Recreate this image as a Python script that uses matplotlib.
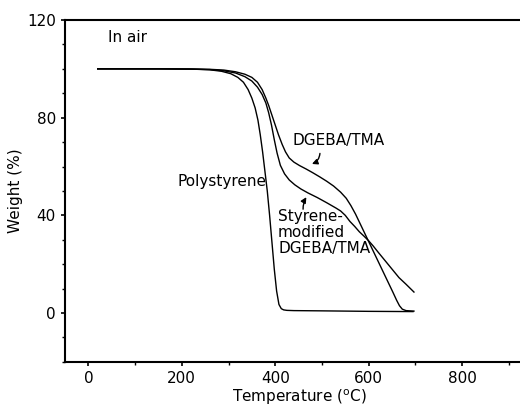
import matplotlib
matplotlib.use('Agg')
import matplotlib.pyplot as plt
from matplotlib.ticker import MultipleLocator

# TGA curves in air: temperature (degC) vs weight (%)
ps_temp = [20, 150, 220, 260, 285, 305, 320, 332, 342, 350, 357, 363, 368, 373, 378, 383,
           388, 393, 398, 403, 408, 413, 418, 425, 440, 500, 600, 695]
ps_weight = [100, 100, 99.9, 99.6, 99, 98, 96.5, 94.5, 91.5, 88, 84, 79, 73, 66, 58, 50,
             40, 29, 18, 9, 3.5, 1.8, 1.3, 1.1, 1.0, 0.9, 0.7, 0.6]

mod_temp = [20, 150, 220, 260, 290, 315, 335, 350, 362, 372, 380, 386, 392, 398, 404, 411,
            420, 430, 442, 455, 470, 490, 510, 530, 540, 550, 560, 570, 580, 590, 600,
            610, 620, 635, 650, 665, 680, 697]
mod_weight = [100, 100, 99.9, 99.7, 99.2, 98.3, 96.8, 95, 92.5, 89.5, 86, 82, 77, 71, 65.5, 60.5,
              57, 54.5, 52.5, 50.8, 49.2, 47.3, 45.2, 43, 41.8, 40, 37.5, 35.5, 33.3, 31.5, 29.6,
              27.4, 25, 21.5, 18, 14.5, 11.8, 8.6]

epoxy_temp = [20, 150, 220, 260, 290, 315, 335, 350, 362, 372, 380, 386, 393, 400, 407, 415,
              422, 430, 440, 452, 466, 480, 495, 510, 525, 540, 552, 562, 572, 582, 592, 602,
              612, 622, 632, 642, 652, 660, 666, 672, 680, 697]
epoxy_weight = [100, 100, 99.9, 99.8, 99.5, 98.8, 97.8, 96.5, 94.5, 91.5, 88, 85, 81, 77, 73, 69,
                66, 63.5, 61.8, 60.4, 59, 57.5, 55.8, 54, 52, 49.5, 47, 44, 40.5, 36.5, 32.5, 28.5,
                24.5, 20.5, 16.5, 12.5, 8.5, 5.2, 3, 1.6, 1.0, 0.8]

plt.rcParams['font.family'] = ['DejaVu Sans']
plt.rcParams['font.size'] = 11

fig = plt.figure(figsize=(5.2, 4.08), dpi=100)
ax = fig.add_axes([0.125, 0.113, 0.875, 0.838])

ax.plot(ps_temp, ps_weight, color='black', lw=1.0)
ax.plot(mod_temp, mod_weight, color='black', lw=1.0)
ax.plot(epoxy_temp, epoxy_weight, color='black', lw=1.0)

ax.set_xlim(-50, 924)
ax.set_ylim(-20, 120)
ax.xaxis.set_major_locator(MultipleLocator(200))
ax.xaxis.set_minor_locator(MultipleLocator(100))
ax.yaxis.set_major_locator(MultipleLocator(40))
ax.yaxis.set_minor_locator(MultipleLocator(10))
ax.tick_params(which='major', direction='out', length=3, width=1.2)
ax.tick_params(which='minor', direction='out', length=2, width=1.0)
ax.spines['right'].set_visible(False)
for s in ['left', 'bottom', 'top']:
    ax.spines[s].set_linewidth(1.5)

ax.set_xlabel(r'Temperature ($^{\mathrm{o}}$C)')
ax.set_ylabel('Weight (%)')
ax.xaxis.set_label_coords(0.515, -0.075)
ax.yaxis.set_label_coords(-0.093, 0.5)

ax.text(43, 113, 'In air', ha='left', va='center')
ax.text(190, 54, 'Polystyrene', ha='left', va='center')
ax.text(438, 70.5, 'DGEBA/TMA', ha='left', va='center')
ax.text(406, 42.8, 'Styrene-\nmodified\nDGEBA/TMA', ha='left', va='top', linespacing=1.1)

ax.annotate('', xy=(473, 60.7), xytext=(496, 66.5),
            arrowprops=dict(arrowstyle='-|>', color='black', lw=1.0,
                            mutation_scale=8, connectionstyle='arc3,rad=-0.4'))
ax.annotate('', xy=(470, 48.4), xytext=(460, 41.4),
            arrowprops=dict(arrowstyle='-|>', color='black', lw=1.0,
                            mutation_scale=8, connectionstyle='arc3,rad=-0.2'))

fig.savefig('out.png', dpi=100)
